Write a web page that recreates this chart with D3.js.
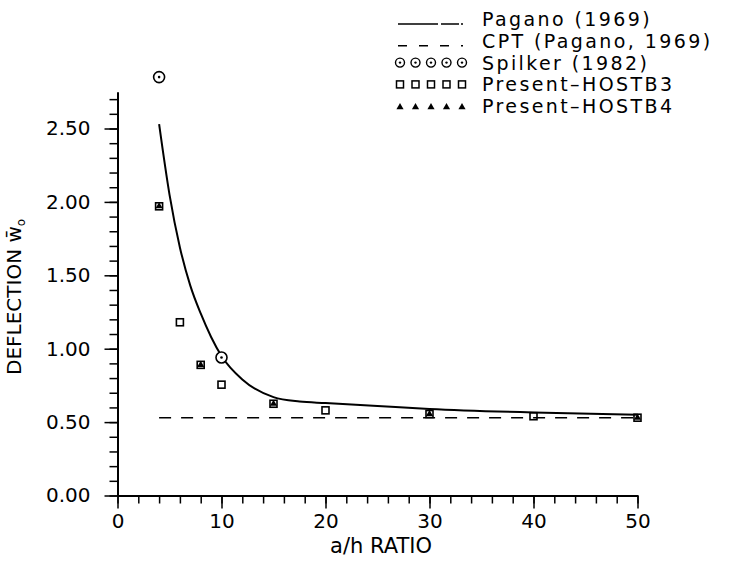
<!DOCTYPE html>
<html>
<head>
<meta charset="utf-8">
<script src="https://cdn.jsdelivr.net/npm/d3@7"></script>
<style>
    body { margin:0; background:#fff; }
    text { font-family: "DejaVu Sans", sans-serif; fill:#000; }
</style>
</head>
<body>
<svg id="drawing_region"></svg>
<script>
// values
const pagano_x = [4, 5, 6, 7, 8, 9, 10, 12, 15, 17.5, 20, 25, 30, 40, 50];
const pagano_y = [2.53, 2.05, 1.69, 1.43, 1.24, 1.08, 0.95, 0.79, 0.67, 0.64, 0.63, 0.61, 0.59, 0.565, 0.55];

const cpt_x = [4, 50];
const cpt_y = [0.53, 0.53];

const spilker_x = [4, 10];
const spilker_y = [2.85, 0.94];

const hostb3_x = [4, 6, 8, 10, 15, 20, 30, 40, 50];
const hostb3_y = [1.97, 1.18, 0.89, 0.755, 0.625, 0.58, 0.555, 0.54, 0.53];

const hostb4_x = [4, 8, 15, 30, 50];
const hostb4_y = [1.97, 0.89, 0.625, 0.555, 0.53];

const xticks = [0, 10, 20, 30, 40, 50];
const yticks = [0, 0.5, 1.0, 1.5, 2.0, 2.5];

const legend_labels = ["Pagano (1969)", "CPT (Pagano, 1969)", "Spilker (1982)", "Present\u2013HOSTB3", "Present\u2013HOSTB4"];

const zip = (xs, ys) => xs.map((x, i) => ({x: x, y: ys[i]}));

class DeflectionPlot {

    constructor( config ) {
        this.config = config;
        this.init();
    }

    init() {
        let self = this;

        self.svg = d3.select( self.config.parent )
            .attr('width', self.config.width)
            .attr('height', self.config.height);

        self.xscale = d3.scaleLinear()
            .domain( [0, 50] )
            .range( [117.5, 637.5] );

        self.yscale = d3.scaleLinear()
            .domain( [0, 2.75] )
            .range( [495.5, 91.8] );
    }

    render() {
        let self = this;
        const xs = self.xscale, ys = self.yscale;

        // minor ticks
        self.svg.append('g')
            .attr('transform', `translate(0, ${ys(0)})`)
            .call( d3.axisBottom(xs).tickValues(d3.range(0, 51, 2)).tickSize(8).tickFormat('') )
            .call( g => g.select('.domain').remove() )
            .selectAll('line').attr('stroke-width', 1.5);

        self.svg.append('g')
            .attr('transform', `translate(${xs(0)}, 0)`)
            .call( d3.axisLeft(ys).tickValues(d3.range(0, 28).map(d => d / 10)).tickSize(8).tickFormat('') )
            .call( g => g.select('.domain').remove() )
            .selectAll('line').attr('stroke-width', 1.5);

        // major ticks + labels
        const xaxis = self.svg.append('g')
            .attr('transform', `translate(0, ${ys(0)})`)
            .call( d3.axisBottom(xs).tickValues(xticks).tickSize(13).tickPadding(5).tickSizeOuter(0).tickFormat(d3.format('d')) );
        xaxis.select('.domain').attr('stroke-width', 2);
        xaxis.selectAll('line').attr('stroke-width', 1.5);
        xaxis.selectAll('text').attr('font-size', '20px').attr('font-family', '"DejaVu Sans", sans-serif');

        const yaxis = self.svg.append('g')
            .attr('transform', `translate(${xs(0)}, 0)`)
            .call( d3.axisLeft(ys).tickValues(yticks).tickSize(13).tickPadding(14).tickSizeOuter(0).tickFormat(d3.format('.2f')) );
        yaxis.select('.domain').attr('stroke-width', 2);
        yaxis.selectAll('line').attr('stroke-width', 1.5);
        yaxis.selectAll('text').attr('font-size', '20px').attr('font-family', '"DejaVu Sans", sans-serif');

        // axis titles
        self.svg.append('text')
            .attr('x', 381)
            .attr('y', 553)
            .attr('text-anchor', 'middle')
            .attr('font-size', '21px')
            .text('a/h  RATIO');

        const ylab = self.svg.append('text')
            .attr('transform', 'translate(21, 375) rotate(-90)')
            .attr('font-size', '20px');
        ylab.append('tspan').text('DEFLECTION  w\u0304');
        ylab.append('tspan').attr('font-size', '12px').attr('dy', 4).text('o');

        // curves
        const line = d3.line()
            .x(d => xs(d.x))
            .y(d => ys(d.y))
            .curve(d3.curveMonotoneX);

        self.svg.append('path')
            .datum(zip(pagano_x, pagano_y))
            .attr('d', line)
            .attr('fill', 'none')
            .attr('stroke', '#000')
            .attr('stroke-width', 2);

        self.svg.append('path')
            .datum(zip(cpt_x, cpt_y))
            .attr('d', line)
            .attr('fill', 'none')
            .attr('stroke', '#000')
            .attr('stroke-width', 1.6)
            .attr('stroke-dasharray', '12,10');

        // markers
        self.svg.selectAll('.hostb3')
            .data(zip(hostb3_x, hostb3_y))
            .enter()
            .append('rect')
            .attr('x', d => xs(d.x) - 3.5)
            .attr('y', d => ys(d.y) - 3.5)
            .attr('width', 7)
            .attr('height', 7)
            .attr('fill', 'none')
            .attr('stroke', '#000')
            .attr('stroke-width', 1.6);

        self.svg.selectAll('.hostb4')
            .data(zip(hostb4_x, hostb4_y))
            .enter()
            .append('path')
            .attr('transform', d => `translate(${xs(d.x)}, ${ys(d.y)})`)
            .attr('d', d3.symbol(d3.symbolTriangle, 22))
            .attr('fill', '#000');

        const spk = self.svg.selectAll('.spilker')
            .data(zip(spilker_x, spilker_y))
            .enter()
            .append('g')
            .attr('transform', d => `translate(${xs(d.x)}, ${ys(d.y)})`);
        spk.append('circle').attr('r', 5.5).attr('fill', '#fff').attr('stroke', '#000').attr('stroke-width', 1.6);
        spk.append('circle').attr('r', 1.3).attr('fill', '#000');

        // legend
        const lg = self.svg.append('g');
        const row = i => 26 + 21.8 * i;

        lg.append('line')
            .attr('x1', 398).attr('x2', 463)
            .attr('y1', row(0) - 2).attr('y2', row(0) - 2)
            .attr('stroke', '#000').attr('stroke-width', 1.5)
            .attr('stroke-dasharray', '40,3,18,2');
        lg.append('line')
            .attr('x1', 398).attr('x2', 463)
            .attr('y1', row(1) - 2).attr('y2', row(1) - 2)
            .attr('stroke', '#000').attr('stroke-width', 1.5)
            .attr('stroke-dasharray', '9,12');

        const mx = d3.range(5).map(i => 400 + i * 15.5);
        mx.forEach(x => {
            lg.append('circle').attr('cx', x).attr('cy', row(2) - 7).attr('r', 4.5)
                .attr('fill', 'none').attr('stroke', '#000').attr('stroke-width', 1.4);
            lg.append('circle').attr('cx', x).attr('cy', row(2) - 7).attr('r', 1.2).attr('fill', '#000');
            lg.append('rect').attr('x', x - 3.5).attr('y', row(3) - 10.5).attr('width', 7).attr('height', 7)
                .attr('fill', 'none').attr('stroke', '#000').attr('stroke-width', 1.5);
            lg.append('path').attr('transform', `translate(${x}, ${row(4) - 6})`)
                .attr('d', d3.symbol(d3.symbolTriangle, 22)).attr('fill', '#000');
        });

        lg.selectAll('.lab')
            .data(legend_labels)
            .enter()
            .append('text')
            .attr('x', 482)
            .attr('y', (d, i) => row(i))
            .attr('font-size', '19px')
            .attr('letter-spacing', '2.4px')
            .text(d => d);
    }
}

const plot = new DeflectionPlot({ parent: '#drawing_region', width: 738, height: 562 });
plot.render();
</script>
</body>
</html>
